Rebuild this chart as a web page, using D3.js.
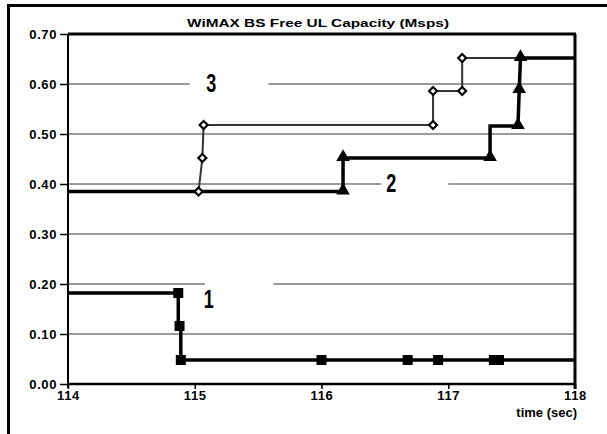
<!DOCTYPE html>
<html>
<head>
<meta charset="UTF-8">
<script src="https://d3js.org/d3.v7.min.js"></script>
<style>
  body { margin: 0; background: #fff; }
  svg { display: block; font-family: "Liberation Sans", Arial, sans-serif; }
</style>
</head>
<body>
<div id="chart"></div>
<script>
    // data
    const xTicks = [114, 115, 116, 117, 118];
    const yTicks = [0, 0.1, 0.2, 0.3, 0.4, 0.5, 0.6, 0.7];

    // 1 : squares
    const s1Time  = [114, 114.87, 114.87, 114.89, 114.89, 118];
    const s1Value = [0.182, 0.182, 0.116, 0.116, 0.048, 0.048];
    const s1MarkTime  = [114.87, 114.88, 114.89, 116.0, 116.68, 116.92, 117.36, 117.4];
    const s1MarkValue = [0.182, 0.116, 0.048, 0.048, 0.048, 0.048, 0.048, 0.048];

    // 2 : triangles
    const s2Time  = [114, 116.17, 116.17, 117.33, 117.33, 117.55, 117.56, 117.57, 118];
    const s2Value = [0.385, 0.385, 0.452, 0.452, 0.516, 0.516, 0.588, 0.652, 0.652];
    const s2MarkTime  = [116.17, 116.17, 117.33, 117.55, 117.56, 117.57];
    const s2MarkValue = [0.385, 0.452, 0.452, 0.516, 0.588, 0.652];

    // 3 : diamonds
    const s3Time  = [114, 115.03, 115.06, 115.07, 116.88, 116.88, 117.11, 117.11, 118];
    const s3Value = [0.385, 0.385, 0.452, 0.518, 0.518, 0.586, 0.586, 0.652, 0.652];
    const s3MarkTime  = [115.03, 115.06, 115.07, 116.88, 116.88, 117.11, 117.11];
    const s3MarkValue = [0.385, 0.452, 0.518, 0.518, 0.586, 0.586, 0.652];

    // curve numbers
    const labelText  = ['1', '2', '3'];
    const labelTime  = [115.11, 116.55, 115.13];
    const labelValue = [0.152, 0.385, 0.585];
    // grid gaps round the numbers
    const gapValue = [0.2, 0.4, 0.6];
    const gapFrom  = [115.08, 116.47, 114.96];
    const gapTo    = [115.62, 117.0, 115.58];

    const W = 607, H = 434;
    const svg = d3.select('#chart').append('svg')
      .attr('width', W).attr('height', H);

    const x = d3.scaleLinear().domain([114, 118]).range([68, 575]);
    const y = d3.scaleLinear().domain([0, 0.7]).range([384, 34]);

    // outer frame
    svg.append('path')
      .attr('d', `M8.5,${H} L8.5,5.5 L${W},5.5`)
      .attr('fill', 'none').attr('stroke', '#000').attr('stroke-width', 3);

    // title
    svg.append('text')
      .attr('x', 318).attr('y', 27)
      .attr('text-anchor', 'middle')
      .attr('font-size', 11.5).attr('font-weight', 'bold')
      .attr('textLength', 262).attr('lengthAdjust', 'spacingAndGlyphs')
      .text('WiMAX BS Free UL Capacity (Msps)');

    // grid
    svg.append('g').selectAll('line')
      .data(yTicks.filter(d => d > 0 && d < 0.7))
      .join('line')
      .attr('x1', x(114)).attr('x2', x(118))
      .attr('y1', d => y(d)).attr('y2', d => y(d))
      .attr('stroke', '#7a7a7a').attr('stroke-width', 1.6);

    svg.append('g').selectAll('rect')
      .data(gapValue)
      .join('rect')
      .attr('x', (d, i) => x(gapFrom[i]))
      .attr('width', (d, i) => x(gapTo[i]) - x(gapFrom[i]))
      .attr('y', d => y(d) - 2).attr('height', 4)
      .attr('fill', '#fff');

    // axes
    const yAxis = d3.axisLeft(y).tickValues(yTicks).tickFormat(d3.format('.2f'))
      .tickSize(8).tickPadding(3);
    const gy = svg.append('g').attr('transform', `translate(${x(114)},0)`).call(yAxis);
    gy.select('.domain').remove();

    const xAxis = d3.axisBottom(x).tickValues(xTicks).tickFormat(d3.format('d'))
      .tickSize(5).tickPadding(2);
    const gx = svg.append('g').attr('transform', `translate(0,${y(0)})`).call(xAxis);
    gx.select('.domain').remove();

    svg.selectAll('.tick text')
      .attr('font-size', 13).attr('font-weight', 'bold')
      .attr('font-family', '"Liberation Sans", Arial, sans-serif')
      .attr('letter-spacing', 0.6).attr('fill', '#000');
    svg.selectAll('.tick line').attr('stroke', '#000').attr('stroke-width', 1.5);

    // plot frame: left, bottom, top, right
    svg.append('line').attr('x1', x(114)).attr('x2', x(114))
      .attr('y1', y(0.7)).attr('y2', y(0) + 4)
      .attr('stroke', '#000').attr('stroke-width', 2);
    svg.append('line').attr('x1', x(114)).attr('x2', x(118))
      .attr('y1', y(0)).attr('y2', y(0))
      .attr('stroke', '#000').attr('stroke-width', 2.5);
    svg.append('line').attr('x1', x(114)).attr('x2', x(118) + 1)
      .attr('y1', y(0.7)).attr('y2', y(0.7))
      .attr('stroke', '#000').attr('stroke-width', 3);
    svg.append('line').attr('x1', x(118)).attr('x2', x(118))
      .attr('y1', y(0.7)).attr('y2', y(0) + 5)
      .attr('stroke', '#000').attr('stroke-width', 3);

    svg.append('text')
      .attr('x', 577).attr('y', 417)
      .attr('text-anchor', 'end')
      .attr('font-size', 13).attr('font-weight', 'bold')
      .text('time (sec)');

    // series lines
    const line = d3.line().x(d => x(d[0])).y(d => y(d[1]));
    const seriesDefs = [
      { t: s3Time, v: s3Value, color: '#333', w: 2 },
      { t: s2Time, v: s2Value, color: '#000', w: 3.5 },
      { t: s1Time, v: s1Value, color: '#000', w: 3.5 }
    ];
    seriesDefs.forEach(s => {
      svg.append('path')
        .datum(s.t.map((t, i) => [t, s.v[i]]))
        .attr('d', line)
        .attr('fill', 'none')
        .attr('stroke', s.color)
        .attr('stroke-width', s.w)
        .attr('stroke-linejoin', 'miter');
    });

    // markers
    svg.append('g').selectAll('path')
      .data(s3MarkTime.map((t, i) => [t, s3MarkValue[i]]))
      .join('path')
      .attr('transform', d => `translate(${x(d[0])},${y(d[1])}) rotate(45)`)
      .attr('d', d3.symbol(d3.symbolSquare, 32))
      .attr('fill', '#fff').attr('stroke', '#000').attr('stroke-width', 2.2);

    svg.append('g').selectAll('path')
      .data(s2MarkTime.map((t, i) => [t, s2MarkValue[i]]))
      .join('path')
      .attr('transform', d => `translate(${x(d[0])},${y(d[1]) - 1})`)
      .attr('d', d3.symbol(d3.symbolTriangle, 80))
      .attr('fill', '#000');

    svg.append('g').selectAll('path')
      .data(s1MarkTime.map((t, i) => [t, s1MarkValue[i]]))
      .join('path')
      .attr('transform', d => `translate(${x(d[0])},${y(d[1])})`)
      .attr('d', d3.symbol(d3.symbolSquare, 100))
      .attr('fill', '#000');

    // curve numbers
    svg.append('g').selectAll('text')
      .data(labelText)
      .join('text')
      .attr('transform', (d, i) => `translate(${x(labelTime[i])},${y(labelValue[i])}) scale(0.72,1)`)
      .attr('text-anchor', 'middle')
      .attr('font-size', 25).attr('font-weight', 'bold')
      .text(d => d);
</script>
</body>
</html>
